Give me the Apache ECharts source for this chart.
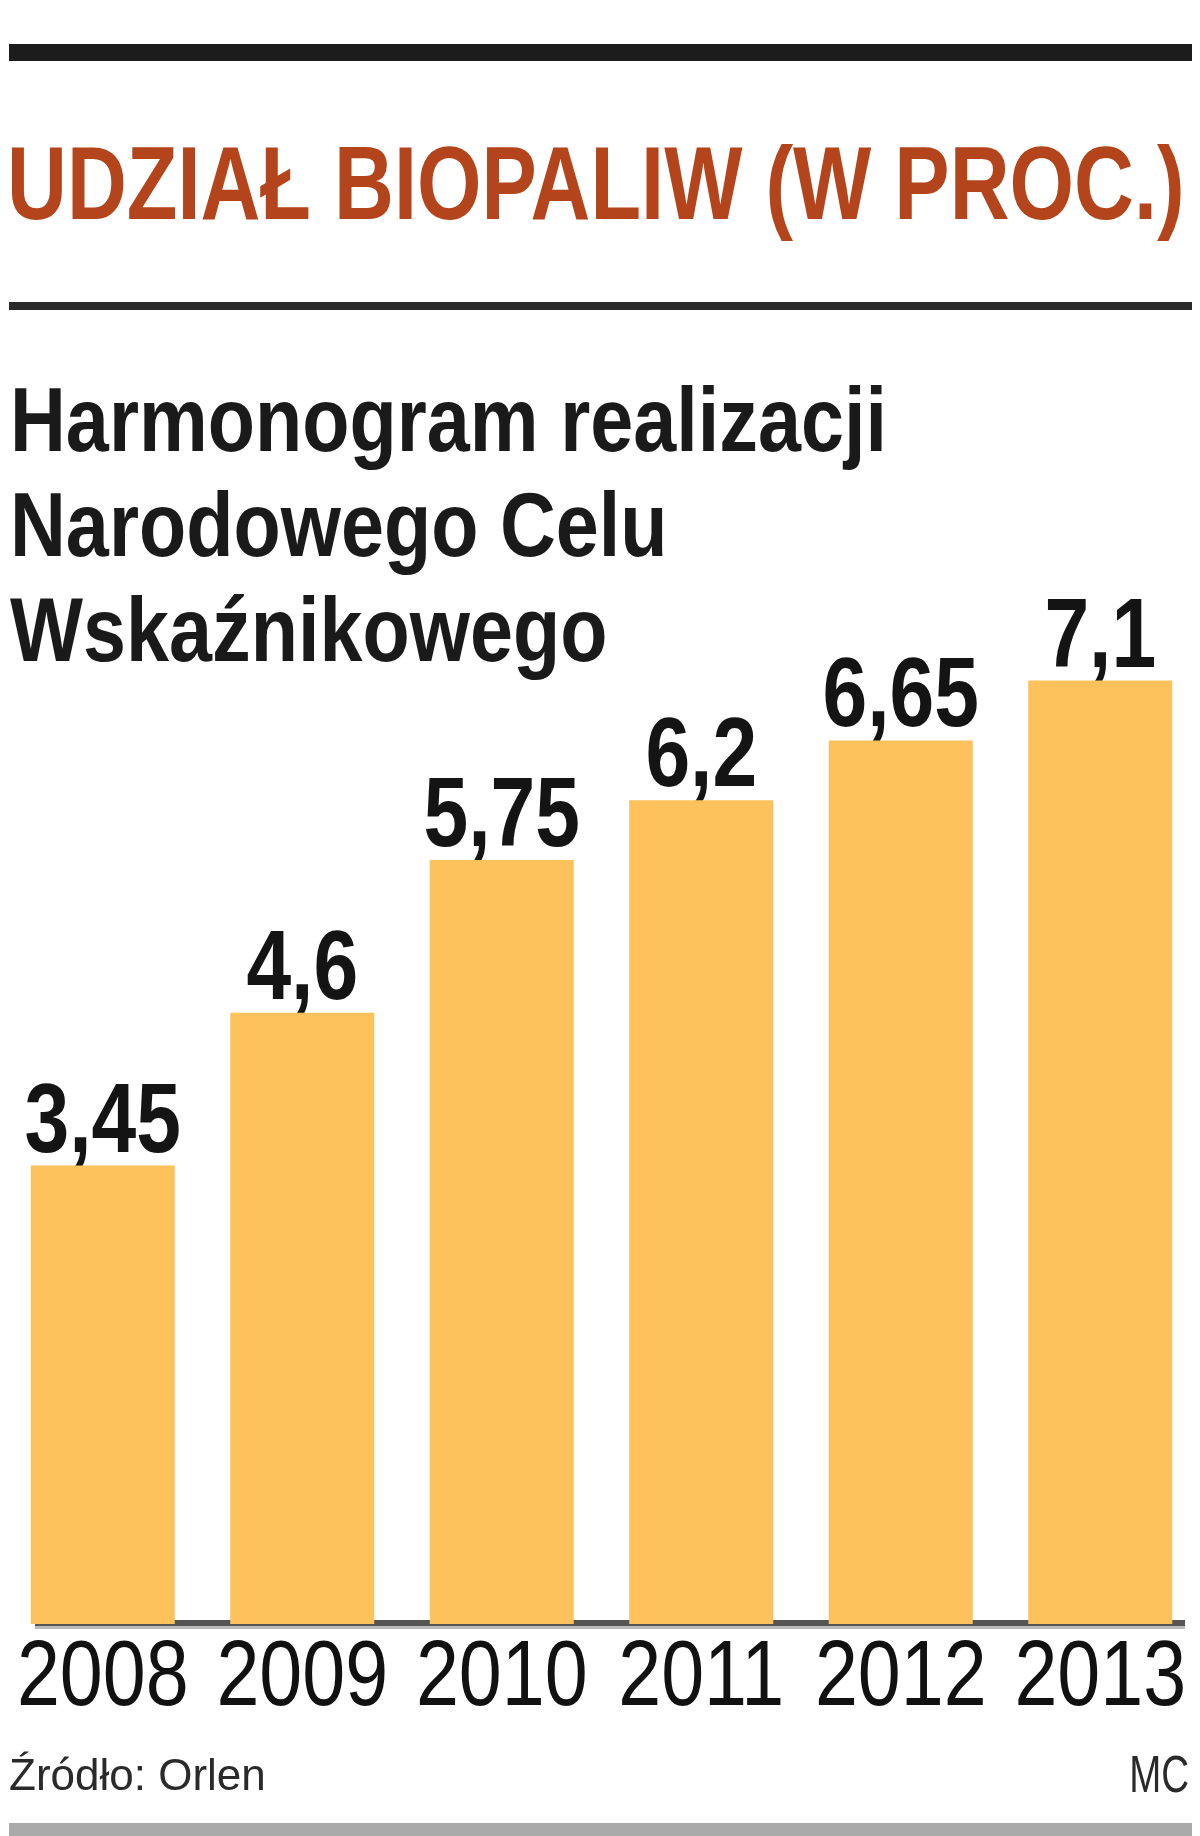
<!DOCTYPE html>
<html>
<head>
<meta charset="utf-8">
<style>
html,body{margin:0;padding:0;background:#fff;}
#chart{width:1200px;height:1836px;}
</style>
<script src="https://cdn.jsdelivr.net/npm/echarts@6/dist/echarts.min.js"></script>
</head>
<body>
<div id="chart"></div>
<script>
var categories = ['2008', '2009', '2010', '2011', '2012', '2013'];
var values = [3.45, 4.6, 5.75, 6.2, 6.65, 7.1];
var titleText = 'UDZIAŁ BIOPALIW (W PROC.)';
var subtitleText = 'Harmonogram realizacji\nNarodowego Celu\nWskaźnikowego';
var sourceText = 'Źródło: Orlen';
var authorText = 'MC';

var FONT = '"Liberation Sans", Arial, sans-serif';
var labelData = values.map(function (v, i) { return [i, v]; });
var catData = categories.map(function (c, i) { return [i, 0]; });

function fmt(v) { return String(v).replace('.', ','); }

var chart = echarts.init(document.getElementById('chart'), null, {renderer: 'canvas'});
chart.setOption({
  backgroundColor: '#ffffff',
  animation: false,
  grid: {left: 3, top: 561, width: 1208, height: 1063},
  xAxis: {
    type: 'category',
    data: categories,
    axisLine: {show: false},
    axisTick: {show: false},
    axisLabel: {show: false}
  },
  yAxis: {
    type: 'value', min: 0, max: 8,
    show: false,
    splitLine: {show: false}
  },
  series: [
    {
      type: 'bar',
      data: values,
      barWidth: 144,
      itemStyle: {color: '#fdc25b'}
    },
    {
      type: 'custom',
      name: 'values',
      data: labelData,
      silent: true,
      renderItem: function (params, api) {
        var pt = api.coord([api.value(0), api.value(1)]);
        return {
          type: 'text', x: pt[0], y: pt[1] + 8, scaleX: 0.82,
          style: {
            text: fmt(values[params.dataIndex]),
            font: 'bold 98px ' + FONT, fill: '#141414',
            align: 'center', verticalAlign: 'bottom'
          }
        };
      }
    },
    {
      type: 'custom',
      name: 'years',
      data: catData,
      silent: true,
      renderItem: function (params, api) {
        var pt = api.coord([api.value(0), api.value(1)]);
        return {
          type: 'text', x: pt[0], y: pt[1] + 9, scaleX: 0.83,
          style: {
            text: categories[params.dataIndex],
            font: '93px ' + FONT, fill: '#111',
            align: 'center', verticalAlign: 'top'
          }
        };
      }
    }
  ],
  graphic: [
    {type: 'rect', shape: {x: 9, y: 44, width: 1183, height: 17}, style: {fill: '#1c1c1c'}},
    {type: 'text', x: 7, y: 139, scaleX: 0.805,
      style: {text: titleText, font: 'bold 103px ' + FONT, fill: '#b4441c'}},
    {type: 'rect', shape: {x: 9, y: 302, width: 1183, height: 8}, style: {fill: '#2a2a2a'}},
    {type: 'text', x: 10, y: 373, scaleX: 0.85,
      style: {text: subtitleText, font: 'bold 91px ' + FONT, lineHeight: 105, fill: '#1a1a1a'}},
    {type: 'rect', shape: {x: 35, y: 1620, width: 1150, height: 6}, style: {fill: '#555555'}},
    {type: 'rect', shape: {x: 35, y: 1626, width: 1150, height: 3}, style: {fill: '#bbbbbb'}},
    {type: 'text', x: 9, y: 1756, scaleX: 1.0,
      style: {text: sourceText, font: '44px ' + FONT, fill: '#2a2a2a'}},
    {type: 'text', x: 1189, y: 1752, scaleX: 0.74,
      style: {text: authorText, font: '52px ' + FONT, fill: '#2a2a2a', align: 'right'}},
    {type: 'rect', shape: {x: 9, y: 1823, width: 1183, height: 13}, style: {fill: '#aaaaaa'}}
  ]
});
</script>
</body>
</html>
